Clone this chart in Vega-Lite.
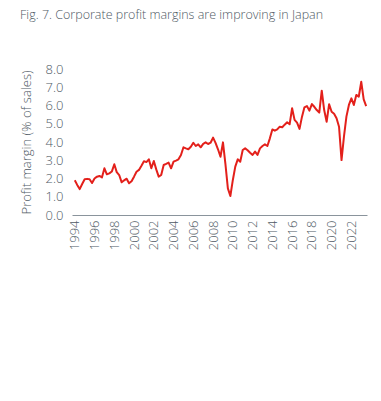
{
  "$schema": "https://vega.github.io/schema/vega-lite/v6.json",
  "autosize": "none",
  "width": 295,
  "height": 146,
  "padding": {"left": 72, "top": 69, "right": 14, "bottom": 186},
  "background": "white",
  "title": {
    "text": "Fig. 7. Corporate profit margins are improving in Japan",
    "anchor": "start",
    "frame": "bounds",
    "offset": 42,
    "fontSize": 12.5,
    "font": "Open Sans",
    "fontWeight": 300,
    "color": "#4f5a65"
  },
  "config": {
    "view": {"stroke": null},
    "axis": {
      "labelFont": "Open Sans",
      "titleFont": "Open Sans",
      "labelColor": "#4f5a65",
      "titleColor": "#4f5a65",
      "labelFontSize": 13,
      "titleFontSize": 13,
      "labelFontWeight": 300,
      "titleFontWeight": 300,
      "grid": false,
      "ticks": false
    }
  },
  "data": {
    "values": [
      {"date": "1994-01-01", "v": 1.90}, {"date": "1994-04-01", "v": 1.65}, {"date": "1994-07-01", "v": 1.42}, {"date": "1994-10-01", "v": 1.70},
      {"date": "1995-01-01", "v": 1.96}, {"date": "1995-04-01", "v": 1.98}, {"date": "1995-07-01", "v": 1.96}, {"date": "1995-10-01", "v": 1.75},
      {"date": "1996-01-01", "v": 2.00}, {"date": "1996-04-01", "v": 2.10}, {"date": "1996-07-01", "v": 2.14}, {"date": "1996-10-01", "v": 2.06},
      {"date": "1997-01-01", "v": 2.56}, {"date": "1997-04-01", "v": 2.23}, {"date": "1997-07-01", "v": 2.28}, {"date": "1997-10-01", "v": 2.38},
      {"date": "1998-01-01", "v": 2.78}, {"date": "1998-04-01", "v": 2.35}, {"date": "1998-07-01", "v": 2.19}, {"date": "1998-10-01", "v": 1.79},
      {"date": "1999-01-01", "v": 1.90}, {"date": "1999-04-01", "v": 1.99}, {"date": "1999-07-01", "v": 1.74}, {"date": "1999-10-01", "v": 1.85},
      {"date": "2000-01-01", "v": 2.10}, {"date": "2000-04-01", "v": 2.37}, {"date": "2000-07-01", "v": 2.47}, {"date": "2000-10-01", "v": 2.70},
      {"date": "2001-01-01", "v": 2.95}, {"date": "2001-04-01", "v": 2.90}, {"date": "2001-07-01", "v": 3.05}, {"date": "2001-10-01", "v": 2.56},
      {"date": "2002-01-01", "v": 2.96}, {"date": "2002-04-01", "v": 2.50}, {"date": "2002-07-01", "v": 2.10}, {"date": "2002-10-01", "v": 2.19},
      {"date": "2003-01-01", "v": 2.74}, {"date": "2003-04-01", "v": 2.80}, {"date": "2003-07-01", "v": 2.87}, {"date": "2003-10-01", "v": 2.56},
      {"date": "2004-01-01", "v": 2.92}, {"date": "2004-04-01", "v": 2.98}, {"date": "2004-07-01", "v": 3.05}, {"date": "2004-10-01", "v": 3.29},
      {"date": "2005-01-01", "v": 3.71}, {"date": "2005-04-01", "v": 3.65}, {"date": "2005-07-01", "v": 3.60}, {"date": "2005-10-01", "v": 3.74},
      {"date": "2006-01-01", "v": 3.96}, {"date": "2006-04-01", "v": 3.78}, {"date": "2006-07-01", "v": 3.87}, {"date": "2006-10-01", "v": 3.71},
      {"date": "2007-01-01", "v": 3.90}, {"date": "2007-04-01", "v": 3.98}, {"date": "2007-07-01", "v": 3.89}, {"date": "2007-10-01", "v": 3.96},
      {"date": "2008-01-01", "v": 4.24}, {"date": "2008-04-01", "v": 3.95}, {"date": "2008-07-01", "v": 3.60}, {"date": "2008-10-01", "v": 3.19},
      {"date": "2009-01-01", "v": 3.98}, {"date": "2009-04-01", "v": 2.80}, {"date": "2009-07-01", "v": 1.46}, {"date": "2009-10-01", "v": 1.04},
      {"date": "2010-01-01", "v": 1.92}, {"date": "2010-04-01", "v": 2.65}, {"date": "2010-07-01", "v": 3.05}, {"date": "2010-10-01", "v": 2.92},
      {"date": "2011-01-01", "v": 3.56}, {"date": "2011-04-01", "v": 3.65}, {"date": "2011-07-01", "v": 3.55}, {"date": "2011-10-01", "v": 3.41},
      {"date": "2012-01-01", "v": 3.29}, {"date": "2012-04-01", "v": 3.47}, {"date": "2012-07-01", "v": 3.29}, {"date": "2012-10-01", "v": 3.65},
      {"date": "2013-01-01", "v": 3.78}, {"date": "2013-04-01", "v": 3.87}, {"date": "2013-07-01", "v": 3.78}, {"date": "2013-10-01", "v": 4.20},
      {"date": "2014-01-01", "v": 4.69}, {"date": "2014-04-01", "v": 4.62}, {"date": "2014-07-01", "v": 4.69}, {"date": "2014-10-01", "v": 4.84},
      {"date": "2015-01-01", "v": 4.81}, {"date": "2015-04-01", "v": 4.95}, {"date": "2015-07-01", "v": 5.08}, {"date": "2015-10-01", "v": 4.97},
      {"date": "2016-01-01", "v": 5.85}, {"date": "2016-04-01", "v": 5.21}, {"date": "2016-07-01", "v": 5.06}, {"date": "2016-10-01", "v": 4.72},
      {"date": "2017-01-01", "v": 5.39}, {"date": "2017-04-01", "v": 5.90}, {"date": "2017-07-01", "v": 5.97}, {"date": "2017-10-01", "v": 5.72},
      {"date": "2018-01-01", "v": 6.08}, {"date": "2018-04-01", "v": 5.93}, {"date": "2018-07-01", "v": 5.75}, {"date": "2018-10-01", "v": 5.61},
      {"date": "2019-01-01", "v": 6.81}, {"date": "2019-04-01", "v": 5.75}, {"date": "2019-07-01", "v": 5.11}, {"date": "2019-10-01", "v": 6.07},
      {"date": "2020-01-01", "v": 5.66}, {"date": "2020-04-01", "v": 5.55}, {"date": "2020-07-01", "v": 5.30}, {"date": "2020-10-01", "v": 4.84},
      {"date": "2021-01-01", "v": 3.01}, {"date": "2021-04-01", "v": 4.29}, {"date": "2021-07-01", "v": 5.39}, {"date": "2021-10-01", "v": 6.03},
      {"date": "2022-01-01", "v": 6.39}, {"date": "2022-04-01", "v": 6.03}, {"date": "2022-07-01", "v": 6.58}, {"date": "2022-10-01", "v": 6.48},
      {"date": "2023-01-01", "v": 7.30}, {"date": "2023-04-01", "v": 6.34}, {"date": "2023-07-01", "v": 5.97}
    ]
  },
  "mark": {"type": "line", "color": "#e3201b", "strokeWidth": 2, "strokeJoin": "round"},
  "encoding": {
    "x": {
      "field": "date",
      "type": "temporal",
      "scale": {"domain": ["1993-09-20", "2023-08-01"], "nice": false},
      "axis": {
        "title": null,
        "format": "%Y",
        "labelAngle": -90,
        "labelPadding": 5,
        "labelOverlap": false,
        "domainColor": "#8a949c",
        "domainWidth": 1,
        "values": [
          {"year": 1994}, {"year": 1996}, {"year": 1998}, {"year": 2000}, {"year": 2002},
          {"year": 2004}, {"year": 2006}, {"year": 2008}, {"year": 2010}, {"year": 2012},
          {"year": 2014}, {"year": 2016}, {"year": 2018}, {"year": 2020}, {"year": 2022}
        ]
      }
    },
    "y": {
      "field": "v",
      "type": "quantitative",
      "scale": {"domain": [0, 8], "nice": false},
      "axis": {
        "title": "Profit margin (% of sales)",
        "format": ".1f",
        "values": [0, 1, 2, 3, 4, 5, 6, 7, 8],
        "labelOverlap": false,
        "domain": false,
        "labelPadding": 9,
        "titlePadding": 12
      }
    }
  }
}
